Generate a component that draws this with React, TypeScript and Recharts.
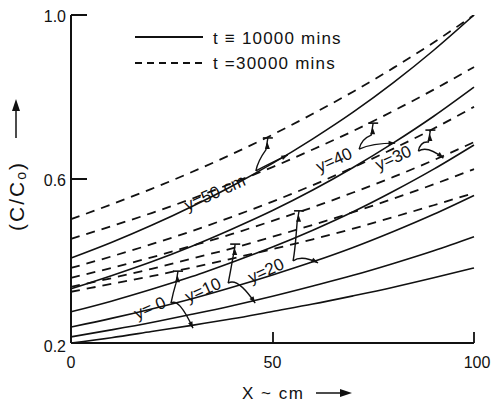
import React from 'react';
import {
  LineChart, Line, XAxis, YAxis, ReferenceDot,
} from 'recharts';

// distance along the bed, cm
const X_CM = [0, 10, 20, 30, 40, 50, 60, 70, 80, 90, 100];

// t = 10000 mins (solid), one list per depth y (cm)
const SOLID_Y0 = [0.2, 0.213, 0.228, 0.243, 0.259, 0.277, 0.295, 0.315, 0.336, 0.359, 0.383];
const SOLID_Y10 = [0.215, 0.232, 0.25, 0.27, 0.291, 0.314, 0.339, 0.365, 0.394, 0.425, 0.459];
const SOLID_Y20 = [0.239, 0.26, 0.283, 0.308, 0.336, 0.366, 0.398, 0.433, 0.472, 0.514, 0.56];
const SOLID_Y30 = [0.276, 0.302, 0.331, 0.362, 0.397, 0.434, 0.475, 0.52, 0.57, 0.624, 0.683];
const SOLID_Y40 = [0.332, 0.364, 0.398, 0.436, 0.478, 0.523, 0.573, 0.628, 0.688, 0.753, 0.824];
const SOLID_Y50 = [0.407, 0.445, 0.487, 0.533, 0.583, 0.638, 0.698, 0.763, 0.835, 0.914, 1.0];

// t = 30000 mins (dashed)
const DASH_Y0 = [0.325, 0.344, 0.363, 0.384, 0.406, 0.429, 0.453, 0.479, 0.507, 0.536, 0.566];
const DASH_Y10 = [0.337, 0.358, 0.381, 0.406, 0.431, 0.459, 0.488, 0.519, 0.552, 0.587, 0.624];
const DASH_Y20 = [0.359, 0.383, 0.409, 0.437, 0.466, 0.498, 0.531, 0.567, 0.605, 0.646, 0.69];
const DASH_Y30 = [0.383, 0.411, 0.441, 0.473, 0.508, 0.545, 0.585, 0.628, 0.674, 0.723, 0.776];
const DASH_Y40 = [0.454, 0.485, 0.517, 0.552, 0.59, 0.629, 0.672, 0.717, 0.766, 0.818, 0.873];
const DASH_Y50 = [0.502, 0.538, 0.576, 0.617, 0.661, 0.708, 0.759, 0.813, 0.871, 0.933, 1.0];

const X_TICKS = [0, 50, 100];
const Y_TICKS = [0.2, 0.6, 1.0];

// curve labels: text and where it sits (x cm, C/Co)
const CURVE_LABELS = [
  { text: 'y= 0', x: 19.6, v: 0.285 },
  { text: 'y=10', x: 32.8, v: 0.329 },
  { text: 'y=20', x: 48.4, v: 0.376 },
  { text: 'y=30', x: 80.0, v: 0.651 },
  { text: 'y=40', x: 65.3, v: 0.646 },
  { text: 'y=50 cm', x: 35.7, v: 0.566 },
];

const SERIES = [
  { key: 's0', values: SOLID_Y0, dashed: false },
  { key: 's10', values: SOLID_Y10, dashed: false },
  { key: 's20', values: SOLID_Y20, dashed: false },
  { key: 's30', values: SOLID_Y30, dashed: false },
  { key: 's40', values: SOLID_Y40, dashed: false },
  { key: 's50', values: SOLID_Y50, dashed: false },
  { key: 'd0', values: DASH_Y0, dashed: true },
  { key: 'd10', values: DASH_Y10, dashed: true },
  { key: 'd20', values: DASH_Y20, dashed: true },
  { key: 'd30', values: DASH_Y30, dashed: true },
  { key: 'd40', values: DASH_Y40, dashed: true },
  { key: 'd50', values: DASH_Y50, dashed: true },
];

const data = X_CM.map((x, i) => {
  const row: Record<string, number> = { x };
  SERIES.forEach((s) => { row[s.key] = s.values[i]; });
  return row;
});

const INK = '#111';
const FONT = '"Liberation Sans", Arial, sans-serif';

// hand-drawn pointer offsets (px) from each label centre: up = T-bar on dashed curve, down = arrow on solid curve
const POINTERS: Record<string, { up: [number, number]; down: [number, number]; from: [number, number] }> = {
  'y= 0': { from: [21, -5], up: [28, -37], down: [43, 20] },
  'y=10': { from: [25, -7], up: [32, -46], down: [52, 13] },
  'y=20': { from: [27, -10], up: [33, -60], down: [52, -8] },
  'y=30': { from: [25, -7], up: [37, -28], down: [50, 0] },
  'y=40': { from: [25, -11], up: [39, -37], down: [61, -17] },
  'y=50 cm': { from: [41, -22], up: [53, -55], down: [73, -38] },
};

function CurveLabel(props: any) {
  const { cx, cy, text } = props;
  const p = POINTERS[text];
  const sx = cx + p.from[0];
  const sy = cy + p.from[1];
  const ux = cx + p.up[0];
  const uy = cy + p.up[1];
  const ex = cx + p.down[0];
  const ey = cy + p.down[1];
  const qx = sx + (ex - sx) * 0.35;
  const qy = sy - 6;
  const ang = Math.atan2(ey - qy, ex - qx);
  const ah = 7;
  return (
    <g>
      <text
        x={cx}
        y={cy}
        transform={`rotate(-24 ${cx} ${cy})`}
        textAnchor="middle"
        dominantBaseline="central"
        fontFamily={FONT}
        fontSize={17}
        fill={INK}
      >
        {text}
      </text>
      <path
        d={`M${sx},${sy} Q${sx + 2},${sy - 10} ${ux - 2},${uy + 12} L${ux},${uy}`}
        fill="none"
        stroke={INK}
        strokeWidth={1.4}
      />
      <line x1={ux - 5} y1={uy} x2={ux + 5} y2={uy} stroke={INK} strokeWidth={1.6} />
      <path d={`M${ux - 3},${uy + 11} L${ux - 0.5},${uy + 4} L${ux + 2},${uy + 11} Z`} fill={INK} />
      <path d={`M${sx},${sy} Q${qx},${qy} ${ex},${ey}`} fill="none" stroke={INK} strokeWidth={1.4} />
      <path
        d={`M${ex},${ey} L${ex - ah * Math.cos(ang - 0.35)},${ey - ah * Math.sin(ang - 0.35)} L${ex - ah * Math.cos(ang + 0.35)},${ey - ah * Math.sin(ang + 0.35)} Z`}
        fill={INK}
      />
    </g>
  );
}

function YTick(props: any) {
  const { x, y, payload } = props;
  return (
    <text x={x - 5} y={y + (payload.value === 0.2 ? 3 : 1)} textAnchor="end" dominantBaseline="central"
      fontFamily={FONT} fontSize={16} fill={INK}>
      {Number(payload.value).toFixed(1)}
    </text>
  );
}

function XTick(props: any) {
  const { x, y, payload } = props;
  return (
    <text x={x + (payload.value === 100 ? 3 : 0)} y={y + 19} textAnchor="middle" dominantBaseline="central"
      fontFamily={FONT} fontSize={16} fill={INK}>
      {payload.value}
    </text>
  );
}

function LegendBox() {
  return (
    <svg width={240} height={46} style={{ display: 'block' }}>
      <line x1={0} y1={8} x2={68} y2={8} stroke={INK} strokeWidth={1.8} />
      <text x={78} y={9} dominantBaseline="central" fontFamily={FONT} fontSize={17} letterSpacing={1.2} fill={INK}>
        t ≡ 10000 mins
      </text>
      <line x1={0} y1={34} x2={68} y2={34} stroke={INK} strokeWidth={1.8} strokeDasharray="7 5" />
      <text x={78} y={34} dominantBaseline="central" fontFamily={FONT} fontSize={17} letterSpacing={1.2} fill={INK}>
        t =30000 mins
      </text>
    </svg>
  );
}

// axis titles and the short inward tick marks of the original frame
function AxisDecor() {
  return (
    <svg width={493} height={404} style={{ position: 'absolute', left: 0, top: 0, pointerEvents: 'none' }}>
      <path d="M71,15 H87 M71,179 H87 M273,343 V332 M474,343 V332" fill="none" stroke={INK} strokeWidth={1.8} />
      <text x={242} y={393} dominantBaseline="central" fontFamily={FONT} fontSize={17} letterSpacing={1.5} fill={INK}>
        X ~ cm
      </text>
      <line x1={316} y1={393} x2={344} y2={393} stroke={INK} strokeWidth={1.5} />
      <path d="M352,393 L340,389 L340,397 Z" fill={INK} />
      <g transform="translate(16 196) rotate(-90)">
        <text x={0} y={0} textAnchor="middle" dominantBaseline="central" fontFamily={FONT} fontSize={21}
          letterSpacing={2} fill={INK}>
          (C/C<tspan fontSize={14} dy={5}>o</tspan><tspan dy={-5}>)</tspan>
        </text>
      </g>
      <line x1={16} y1={138} x2={16} y2={108} stroke={INK} strokeWidth={1.5} />
      <path d="M16,99 L12,111 L20,111 Z" fill={INK} />
    </svg>
  );
}

export default function App(): React.JSX.Element {
  return (
    <div style={{ position: 'absolute', left: 0, top: 0, width: 493, height: 404, background: '#fff' }}>
      <LineChart width={493} height={404} data={data} margin={{ top: 15, right: 19, bottom: 0, left: 0 }}>
        <XAxis
          dataKey="x"
          type="number"
          domain={[0, 100]}
          ticks={X_TICKS}
          tickLine={false}
          tickSize={0}
          tickMargin={0}
          height={61}
          axisLine={{ stroke: INK, strokeWidth: 2 }}
          tick={<XTick />}
          interval={0}
        />
        <YAxis
          type="number"
          domain={[0.2, 1.0]}
          ticks={Y_TICKS}
          tickLine={false}
          tickSize={0}
          tickMargin={0}
          width={71}
          axisLine={{ stroke: INK, strokeWidth: 2 }}
          tick={<YTick />}
          interval={0}
          allowDataOverflow
        />
        {SERIES.map((s) => (
          <Line
            key={s.key}
            dataKey={s.key}
            type="monotone"
            stroke={INK}
            strokeWidth={s.dashed ? 1.8 : 1.6}
            strokeDasharray={s.dashed ? '9 7' : undefined}
            dot={false}
            activeDot={false}
            isAnimationActive={false}
          />
        ))}
        {CURVE_LABELS.map((c) => (
          <ReferenceDot
            key={c.text}
            x={c.x}
            y={c.v}
            r={0}
            ifOverflow="visible"
            shape={(p: any) => <CurveLabel cx={p.cx} cy={p.cy} text={c.text} />}
          />
        ))}
      </LineChart>
      <div style={{ position: 'absolute', left: 135, top: 29 }}>
        <LegendBox />
      </div>
      <AxisDecor />
    </div>
  );
}
